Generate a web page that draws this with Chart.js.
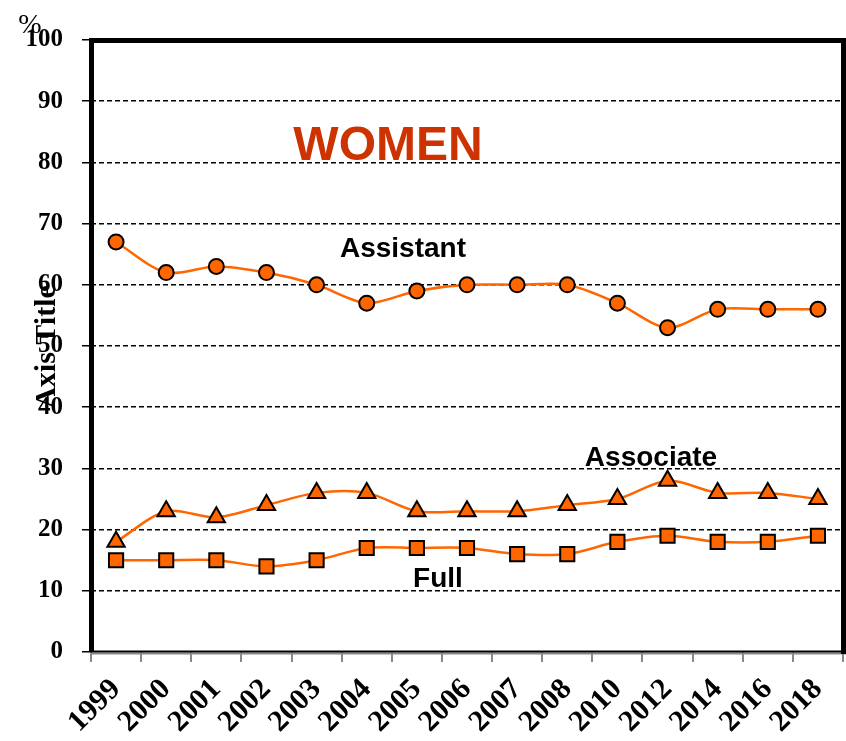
<!DOCTYPE html>
<html>
<head>
<meta charset="utf-8">
<script src="https://cdn.jsdelivr.net/npm/chart.js@4/dist/chart.umd.min.js"></script>
<style>
  html, body { margin: 0; padding: 0; background: #fff; }
  #grafico { display: block; }
</style>
</head>
<body>
<canvas id="grafico" width="846" height="741"></canvas>
<script>
  // datos
  const anios = ['1999', '2000', '2001', '2002', '2003', '2004', '2005', '2006', '2007', '2008', '2010', '2012', '2014', '2016', '2018'];
  const assistant = [67, 62, 63, 62, 60, 57, 59, 60, 60, 60, 57, 53, 56, 56, 56];
  const associate = [18, 23, 22, 24, 26, 26, 23, 23, 23, 24, 25, 28, 26, 26, 25];
  const full = [15, 15, 15, 14, 15, 17, 17, 17, 16, 16, 18, 19, 18, 18, 19];
  const ticksY = [0, 10, 20, 30, 40, 50, 60, 70, 80, 90, 100];

  const naranja = '#FF6600';

  // marco, titulo y etiquetas de texto
  const decoracion = {
    id: 'decoracion',
    afterDraw(chart) {
      const ctx = chart.ctx;
      const a = chart.chartArea;
      ctx.save();
      // borde inferior
      ctx.strokeStyle = '#888';
      ctx.lineWidth = 2;
      ctx.beginPath();
      ctx.moveTo(a.left, a.bottom + 1.5);
      ctx.lineTo(a.right + 3, a.bottom + 1.5);
      ctx.stroke();
      ctx.strokeStyle = '#000';
      ctx.lineWidth = 2;
      ctx.beginPath();
      ctx.moveTo(a.left, a.bottom - 0.5);
      ctx.lineTo(a.right + 3, a.bottom - 0.5);
      ctx.stroke();
      // bordes gruesos
      ctx.fillStyle = '#000';
      ctx.fillRect(a.left - 2, a.top - 2, 5, a.bottom - a.top + 2);
      ctx.fillRect(a.left - 2, a.top - 2, a.right - a.left + 5, 5);
      ctx.fillRect(a.right - 2, a.top - 2, 5, a.bottom - a.top + 4);

      // textos
      ctx.textAlign = 'center';
      ctx.textBaseline = 'alphabetic';
      ctx.fillStyle = '#CC3300';
      ctx.font = 'bold 48px "Liberation Sans", Arial, sans-serif';
      ctx.fillText('WOMEN', 388, 160);
      ctx.fillStyle = '#000';
      ctx.font = 'bold 28px "Liberation Sans", Arial, sans-serif';
      ctx.fillText('Assistant', 403, 257);
      ctx.fillText('Associate', 651, 466);
      ctx.fillText('Full', 438, 587);

      ctx.font = '28px "Liberation Serif", "Times New Roman", serif';
      ctx.fillText('%', 30, 33);

      ctx.translate(55, 347);
      ctx.rotate(-Math.PI / 2);
      ctx.font = 'bold 30px "Liberation Serif", "Times New Roman", serif';
      ctx.fillText('Axis Title', 0, 0);
      ctx.restore();
    }
  };

  const fuenteY = { family: '"Liberation Serif", "Times New Roman", serif', weight: 'bold', size: 25 };
  const fuenteX = { family: '"Liberation Serif", "Times New Roman", serif', weight: 'bold', size: 30 };

  new Chart(document.getElementById('grafico').getContext('2d'), {
    type: 'line',
    data: {
      labels: anios,
      datasets: [{
        label: 'Assistant',
        data: assistant,
        borderColor: naranja,
        backgroundColor: naranja,
        pointStyle: 'circle',
        pointRadius: 7.5
      }, {
        label: 'Associate',
        data: associate,
        borderColor: naranja,
        backgroundColor: naranja,
        pointStyle: 'triangle',
        pointRadius: 10
      }, {
        label: 'Full',
        data: full,
        borderColor: naranja,
        backgroundColor: naranja,
        pointStyle: 'rect',
        pointRadius: 10
      }]
    },
    options: {
      responsive: false,
      animation: false,
      layout: { autoPadding: false, padding: { top: 40, right: 3, left: 0, bottom: 0 } },
      elements: {
        line: { borderWidth: 2.5, tension: 0.3 }
      },
      datasets: {
        line: { pointBorderColor: '#000', pointBorderWidth: 2 }
      },
      plugins: {
        legend: { display: false },
        tooltip: { enabled: false }
      },
      scales: {
        x: {
          offset: true,
          border: { display: false },
          grid: {
            offset: true,
            drawOnChartArea: false,
            drawTicks: true,
            tickLength: 10,
            tickColor: '#888',
            lineWidth: 2
          },
          ticks: {
            color: '#000',
            font: fuenteX,
            minRotation: 45,
            maxRotation: 45,
            padding: 10,
            autoSkip: false
          },
          afterFit(scale) {
            scale.height = 89;
            scale.paddingLeft = 0;
            scale.paddingRight = 0;
          }
        },
        y: {
          min: 0,
          max: 100,
          afterBuildTicks(scale) { scale.ticks = ticksY.map(v => ({ value: v })); },
          border: { display: false, dash: [5, 3] },
          grid: {
            color: ctx => (ctx.tick && (ctx.tick.value === 0 || ctx.tick.value === 100)) ? 'rgba(0,0,0,0)' : '#000',
            tickColor: '#000',
            lineWidth: 1.5,
            tickBorderDash: [],
            tickLength: 9
          },
          ticks: {
            color: '#000',
            font: fuenteY,
            padding: 19
          },
          afterFit(scale) {
            scale.width = 91;
            scale.paddingTop = 0;
            scale.paddingBottom = 0;
          }
        }
      }
    },
    plugins: [decoracion]
  });
</script>
</body>
</html>
